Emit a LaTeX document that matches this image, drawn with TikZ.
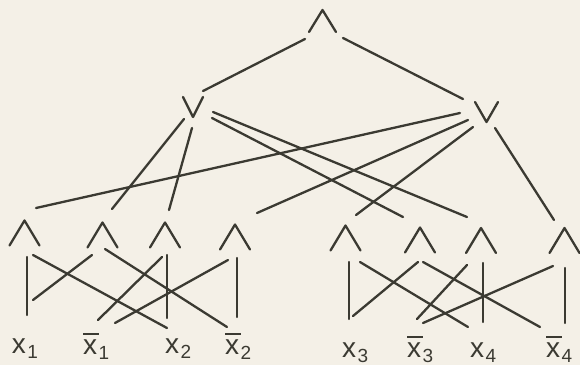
\documentclass[tikz,border=0pt]{standalone}
\usepackage{fontspec}
\setmainfont{Liberation Sans}
\definecolor{bgc}{HTML}{F4F0E7}
\definecolor{ink}{HTML}{3B3A32}
\newcommand\xlab[1]{{\fontsize{28}{30}\selectfont x}\kern1.5pt\raisebox{-5.5pt}{\fontsize{19}{20}\selectfont #1}}
\newcommand\xbarlab[1]{\rlap{\raisebox{19pt}{\color{ink}\rule{16pt}{2pt}}}\xlab{#1}}
\begin{document}
\begin{tikzpicture}[x=1pt,y=-1pt,
  wire/.style={draw=ink, line width=2.3pt, line cap=round, line join=round},
  gatebox/.style={inner sep=0pt, outer sep=0pt, minimum width=30pt, minimum height=25pt},
  lab/.style={inner sep=0pt, outer sep=0pt, anchor=base west, text=ink}]
\fill[bgc] (0,0) rectangle (580,365);
\useasboundingbox (0,0) rectangle (580,365);
% gates
\node[gatebox, minimum width=27pt, minimum height=22pt] (T) at (322.5,21) {};
\node[gatebox, minimum width=20pt, minimum height=20pt] (OL) at (193,107) {};
\node[gatebox, minimum width=23pt, minimum height=20pt] (OR) at (486.5,112) {};
\node[gatebox] (g1) at (24.5,233) {};
\node[gatebox] (g2) at (102.5,235) {};
\node[gatebox] (g3) at (165,235) {};
\node[gatebox] (g4) at (235,237) {};
\node[gatebox] (g5) at (345.5,238) {};
\node[gatebox] (g6) at (420,240) {};
\node[gatebox] (g7) at (481,240.5) {};
\node[gatebox] (g8) at (564.5,240.5) {};
\foreach \g in {T,g1,g2,g3,g4,g5,g6,g7,g8}
  \draw[wire] (\g.south west) -- (\g.north) -- (\g.south east);
\foreach \g in {OL,OR}
  \draw[wire] (\g.north west) -- (\g.south) -- (\g.north east);
% labels
\node[lab] (L1)  at (12,353)  {\xlab{1}};
\node[lab] (L1b) at (83,354)  {\xbarlab{1}};
\node[lab] (L2)  at (165,353) {\xlab{2}};
\node[lab] (L2b) at (225,354) {\xbarlab{2}};
\node[lab] (L3)  at (342,357) {\xlab{3}};
\node[lab] (L3b) at (407,357) {\xbarlab{3}};
\node[lab] (L4)  at (470,357) {\xlab{4}};
\node[lab] (L4b) at (546,357) {\xbarlab{4}};
% top level
\draw[wire] ([shift={(-17.5,18)}]T.center) -- ([shift={(10,-16)}]OL.center);
\draw[wire] ([shift={(20.5,17)}]T.center) -- ([shift={(-23.5,-13)}]OR.center);
% left OR
\draw[wire] ([shift={(-9,12)}]OL.center) -- ([shift={(9.5,-26)}]g2.center);
\draw[wire] ([shift={(-1,21)}]OL.center) -- ([shift={(4,-25)}]g3.center);
\draw[wire] ([shift={(20,5)}]OL.center) -- ([shift={(-14,-23.5)}]g7.center);
\draw[wire] ([shift={(19,11)}]OL.center) -- ([shift={(-17,-23)}]g6.center);
% right OR
\draw[wire] ([shift={(-26.5,1)}]OR.center) -- ([shift={(11.5,-25)}]g1.center);
\draw[wire] ([shift={(-18.5,8)}]OR.center) -- ([shift={(22,-24)}]g4.center);
\draw[wire] ([shift={(-13.5,15)}]OR.center) -- ([shift={(10.5,-23)}]g5.center);
\draw[wire] ([shift={(8.5,16)}]OR.center) -- ([shift={(-10.5,-20.5)}]g8.center);
% inputs, left group
\draw[wire] ([shift={(2.5,24)}]g1.center) -- ([shift={(15,-38)}]L1.base west);
\draw[wire] ([shift={(8.5,22)}]g1.center) -- ([shift={(2,-25)}]L2.base west);
\draw[wire] ([shift={(-10.5,20)}]g2.center) -- ([shift={(21,-53)}]L1.base west);
\draw[wire] ([shift={(2.5,14)}]g2.center) -- ([shift={(2,-27)}]L2b.base west);
\draw[wire] ([shift={(-3,22)}]g3.center) -- ([shift={(15,-34)}]L1b.base west);
\draw[wire] ([shift={(2,20)}]g3.center) -- ([shift={(2,-35)}]L2.base west);
\draw[wire] ([shift={(-7,23)}]g4.center) -- ([shift={(32,-31)}]L1b.base west);
\draw[wire] ([shift={(2,21)}]g4.center) -- ([shift={(12,-37)}]L2b.base west);
% inputs, right group
\draw[wire] ([shift={(3.5,24)}]g5.center) -- ([shift={(7,-38)}]L3.base west);
\draw[wire] ([shift={(14.5,24)}]g5.center) -- ([shift={(-2,-30)}]L4.base west);
\draw[wire] ([shift={(-2,22)}]g6.center) -- ([shift={(11,-41)}]L3.base west);
\draw[wire] ([shift={(3,22)}]g6.center) -- ([shift={(-6,-30)}]L4b.base west);
\draw[wire] ([shift={(-14,24.5)}]g7.center) -- ([shift={(10,-38)}]L3b.base west);
\draw[wire] ([shift={(2,22.5)}]g7.center) -- ([shift={(13,-35)}]L4.base west);
\draw[wire] ([shift={(-11.5,25.5)}]g8.center) -- ([shift={(16,-34)}]L3b.base west);
\draw[wire] ([shift={(0.5,27.5)}]g8.center) -- ([shift={(19,-34)}]L4b.base west);
\end{tikzpicture}
\end{document}
